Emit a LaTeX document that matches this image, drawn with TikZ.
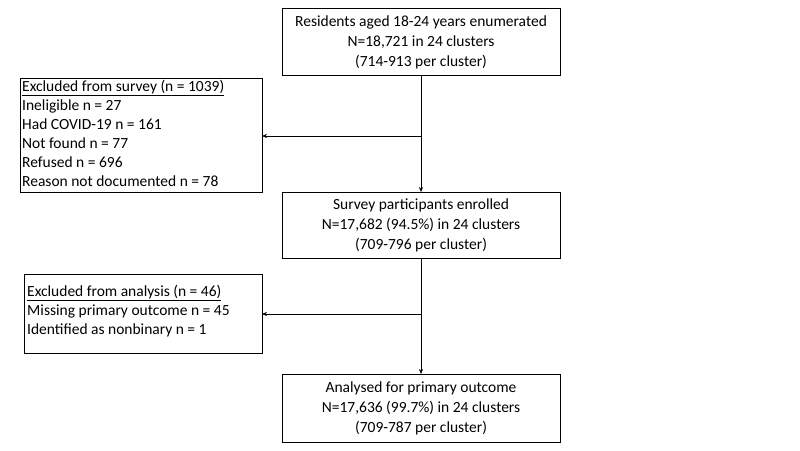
\documentclass[tikz,border=0pt]{standalone}
\usepackage{fontspec}
\setmainfont{Carlito}
\usetikzlibrary{arrows.meta}
\begin{document}
\begin{tikzpicture}[x=1pt,y=-1pt,
  bx/.style={draw,line width=0.6pt,inner sep=0pt},
  txt/.style={font=\fontsize{15.5}{20}\selectfont,align=center},
  ltxt/.style={font=\fontsize{15.5}{19}\selectfont,align=left,anchor=north west,inner sep=0pt},
  arr/.style={-{Stealth[length=5pt,width=4pt]},line width=0.5pt}]
\useasboundingbox (0,0) rectangle (800,450);
\draw[bx] (282,8) rectangle (560,75);
\node[txt] (a) at (421,42) {Residents aged 18-24 years enumerated\\N=18,721 in 24 clusters\\(714-913 per cluster)};
\draw[bx] (20,78) rectangle (262,192);
\node[ltxt] (b) at (22,80) {\underline{Excluded from survey (n = 1039)}\\Ineligible n = 27\\Had COVID-19 n = 161\\Not found n = 77\\Refused n = 696\\Reason not documented n = 78};
\draw[bx] (282,192) rectangle (560,258);
\node[txt] (c) at (421,225.5) {Survey participants enrolled\\N=17,682 (94.5\%) in 24 clusters\\(709-796 per cluster)};
\draw[bx] (24,274) rectangle (262,353);
\node[ltxt] (d) at (27,285) {\underline{Excluded from analysis (n = 46)}\\Missing primary outcome n = 45\\Identified as nonbinary n = 1};
\draw[bx] (282,374) rectangle (560,442);
\node[txt] (e) at (421,408.5) {Analysed for primary outcome\\N=17,636 (99.7\%) in 24 clusters\\(709-787 per cluster)};
\coordinate (p1) at (421,136);
\coordinate (p2) at (421,314);
\draw[arr] (421,75) -- (421,192);
\draw[arr] (p1) -- (262,136);
\draw[arr] (421,258) -- (421,374);
\draw[arr] (p2) -- (262,314);
\end{tikzpicture}
\end{document}
